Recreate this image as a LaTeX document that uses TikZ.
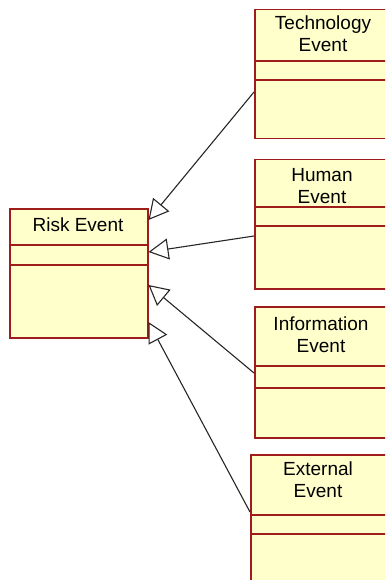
\documentclass[tikz,border=0pt]{standalone}
\usepackage{fontspec}
\setmainfont{Liberation Sans}
\usetikzlibrary{arrows.meta}
\definecolor{classfill}{HTML}{FFFFCC}
\definecolor{classline}{HTML}{9E1C1C}
\begin{document}
\begin{tikzpicture}[x=1pt,y=-1pt,
  classbox/.style={draw=classline, fill=classfill, line width=1.5pt,
    inner sep=0pt, anchor=north west},
  divider/.style={draw=classline, line width=1.5pt},
  classname/.style={inner sep=0pt, anchor=north, align=center,
    font=\fontsize{19}{22}\selectfont},
  gen/.style={draw=black!85, line width=1.1pt,
    -{Triangle[open, length=20pt, width=21pt, line width=1.1pt]}}]
\useasboundingbox (0,0) rectangle (385,580);
\clip (0,0) rectangle (385,580);

% parent class
\node[classbox, minimum width=138pt, minimum height=129pt] (risk) at (9,208) {};
\draw[divider] (risk.west |- 0,245) -- (risk.east |- 0,245);
\draw[divider] (risk.west |- 0,265) -- (risk.east |- 0,265);
\node[classname] (riskname) at (78,218) {Risk Event};

% child classes (they run past the right edge)
\node[classbox, minimum width=140pt, minimum height=129pt] (tech) at (254,9) {};
\draw[divider] (tech.west |- 0,61) -- (tech.east |- 0,61);
\draw[divider] (tech.west |- 0,80) -- (tech.east |- 0,80);
\node[classname] (techname) at (323,16) {Technology\\Event};

\node[classbox, minimum width=140pt, minimum height=129pt] (human) at (254,159) {};
\draw[divider] (human.west |- 0,207) -- (human.east |- 0,207);
\draw[divider] (human.west |- 0,226) -- (human.east |- 0,226);
\node[classname] (humanname) at (322,168) {Human\\Event};

\node[classbox, minimum width=140pt, minimum height=131pt] (info) at (254,306) {};
\draw[divider] (info.west |- 0,366) -- (info.east |- 0,366);
\draw[divider] (info.west |- 0,388) -- (info.east |- 0,388);
\node[classname] (infoname) at (321,317) {Information\\Event};

\node[classbox, minimum width=144pt, minimum height=140pt] (ext) at (250,454) {};
\draw[divider] (ext.west |- 0,515) -- (ext.east |- 0,515);
\draw[divider] (ext.west |- 0,534) -- (ext.east |- 0,534);
\node[classname] (extname) at (318,462) {External\\Event};

% generalisation connectors
\draw[gen] (tech.west |- 0,92) -- (risk.east |- 0,220);
\draw[gen] (human.west |- 0,236) -- (risk.east |- 0,252);
\draw[gen] (info.west |- 0,373) -- (risk.east |- 0,285);
\draw[gen] (ext.west |- 0,512) -- (risk.east |- 0,322);
\end{tikzpicture}
\end{document}
